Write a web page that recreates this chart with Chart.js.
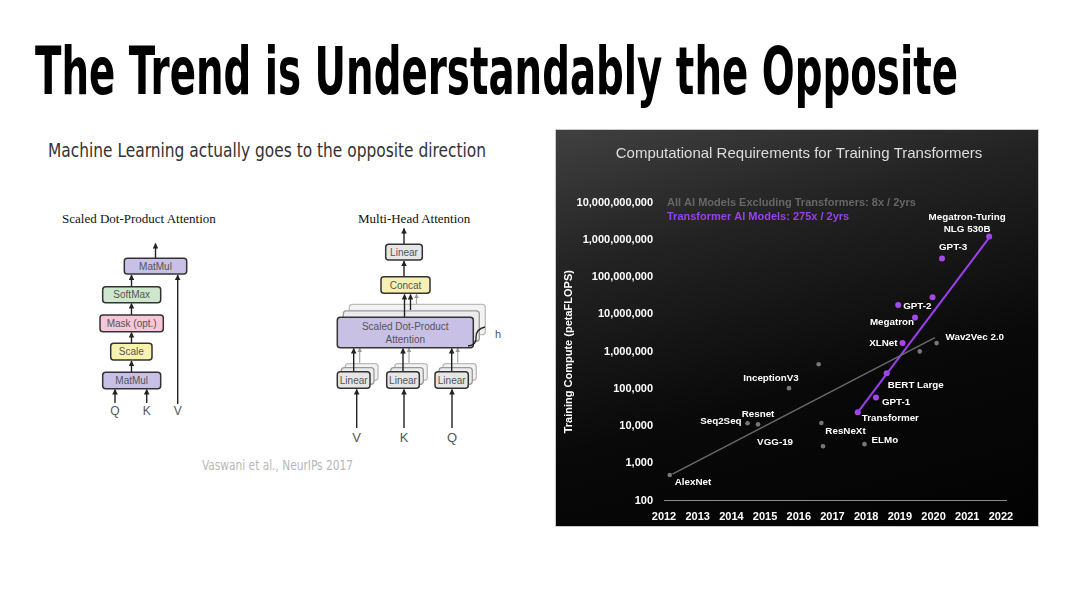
<!DOCTYPE html>
<html>
<head>
<meta charset="utf-8">
<script src="https://cdn.jsdelivr.net/npm/chart.js@4/dist/chart.umd.min.js"></script>
<style>
  html, body { margin: 0; padding: 0; }
  body { width: 1080px; height: 608px; background: #fff; position: relative; overflow: hidden; font-family: "Liberation Sans", Arial, sans-serif; }
  .txt { position: absolute; white-space: nowrap; line-height: 1; transform-origin: 0 0; }
  #title { left: 35px; top: 33px; font: bold 66px "Liberation Sans Narrow", "DejaVu Sans Condensed", sans-serif; color: #000; }
  #subtitle { left: 48px; top: 139px; font: 19px "Liberation Sans Narrow", "DejaVu Sans Condensed", sans-serif; color: #333; }
  #cite { left: 202px; top: 457px; font: 14px "Liberation Sans Narrow", "DejaVu Sans Condensed", sans-serif; color: #b8b8b8; }
  .dtitle { position: absolute; font: 13px "Liberation Serif", "DejaVu Serif", serif; color: #111; white-space: nowrap; }
  #panel { position: absolute; left: 555px; top: 129px; width: 482px; height: 396px; border: 1px solid #c8c8c8;
    background: linear-gradient(165deg, #404040 0%, #222 28%, #090909 62%, #020202 100%); }
  #chart { display: block; }
  svg text { font-family: "Liberation Sans", Arial, sans-serif; }
</style>
</head>
<body>
<div id="title" class="txt" data-w="923">The Trend is Understandably the Opposite</div>
<div id="subtitle" class="txt" data-w="438">Machine Learning actually goes to the opposite direction</div>
<div id="cite" class="txt" data-w="151">Vaswani et al., NeurIPs 2017</div>
<div class="dtitle" style="left:62px;top:211px;">Scaled Dot-Product Attention</div>
<div class="dtitle" style="left:358px;top:211px;">Multi-Head Attention</div>

<svg width="540" height="480" style="position:absolute;left:0;top:0">
  <defs>
    <marker id="ah" viewBox="0 0 10 10" refX="9" refY="5" markerWidth="4" markerHeight="4" orient="auto">
      <path d="M0,0 L10,5 L0,10 z" fill="#222"/>
    </marker>
    <marker id="ahg" viewBox="0 0 10 10" refX="9" refY="5" markerWidth="4" markerHeight="4" orient="auto">
      <path d="M0,0 L10,5 L0,10 z" fill="#999"/>
    </marker>
  </defs>
  <!-- scaled dot-product attention -->
  <g stroke="#222" stroke-width="1.4" marker-end="url(#ah)">
    <line x1="115" y1="403" x2="115" y2="389.5"/>
    <line x1="146.7" y1="403" x2="146.7" y2="389.5"/>
    <line x1="131.5" y1="372" x2="131.5" y2="361"/>
    <line x1="131.5" y1="343" x2="131.5" y2="332.5"/>
    <line x1="131.5" y1="315" x2="131.5" y2="303.5"/>
    <line x1="131.5" y1="286.5" x2="131.5" y2="275"/>
    <line x1="177.7" y1="404" x2="177.7" y2="275"/>
    <line x1="155.5" y1="258" x2="155.5" y2="243.5"/>
  </g>
  <g stroke="#333" stroke-width="1.5">
    <rect x="124.3" y="258.3" width="62.4" height="15.7" rx="3" fill="#c8c0e6"/>
    <rect x="102.7" y="286.7" width="58" height="16" rx="3" fill="#cde8cd"/>
    <rect x="100" y="315" width="63.3" height="16.7" rx="3" fill="#f6c6da"/>
    <rect x="110.7" y="343.3" width="41.3" height="16.7" rx="3" fill="#f7f2ae"/>
    <rect x="102.7" y="372.3" width="58" height="16.4" rx="3" fill="#c8c0e6"/>
  </g>
  <g font-size="10" fill="#555" text-anchor="middle" dominant-baseline="central">
    <text x="155.5" y="266.5">MatMul</text>
    <text x="131.7" y="294.9">SoftMax</text>
    <text x="131.7" y="323.5">Mask (opt.)</text>
    <text x="131.3" y="351.8">Scale</text>
    <text x="131.7" y="380.6">MatMul</text>
  </g>
  <g font-size="12" fill="#555" text-anchor="middle" dominant-baseline="central">
    <text x="115" y="411">Q</text>
    <text x="146.7" y="411">K</text>
    <text x="177.7" y="411">V</text>
  </g>

  <!-- multi-head attention -->
  <g stroke="#aaa" stroke-width="1.2" marker-end="url(#ahg)">
    <line x1="416.5" y1="304" x2="416.5" y2="294"/>
    <line x1="359.7" y1="367" x2="359.7" y2="348"/>
    <line x1="409" y1="367" x2="409" y2="348"/>
    <line x1="457.7" y1="367" x2="457.7" y2="348"/>
  </g>
  <g stroke="#bbb" stroke-width="1.3" fill="#f2f2f2">
    <rect x="349.3" y="304.3" width="136" height="30.4" rx="3"/>
    <rect x="345.3" y="363.7" width="32.7" height="16.6" rx="3"/>
    <rect x="394.7" y="363.7" width="32.6" height="16.6" rx="3"/>
    <rect x="443" y="363.7" width="33.3" height="16.6" rx="3"/>
  </g>
  <g stroke="#999" stroke-width="1.3" fill="#ececec">
    <rect x="343.3" y="310.8" width="136" height="30.4" rx="3"/>
    <rect x="341.3" y="367.7" width="32.7" height="16.6" rx="3"/>
    <rect x="390.7" y="367.7" width="32.6" height="16.6" rx="3"/>
    <rect x="439" y="367.7" width="33.3" height="16.6" rx="3"/>
  </g>
  <g stroke="#222" stroke-width="1.4" marker-end="url(#ah)">
    <line x1="404" y1="244" x2="404" y2="228.5"/>
    <line x1="404" y1="276.5" x2="404" y2="261"/>
    <line x1="404.5" y1="317" x2="404.5" y2="294.5"/>
    <line x1="410.5" y1="310" x2="410.5" y2="294.5"/>
    <line x1="353.7" y1="371.5" x2="353.7" y2="348.5"/>
    <line x1="403" y1="371.5" x2="403" y2="348.5"/>
    <line x1="451.7" y1="371.5" x2="451.7" y2="348.5"/>
    <line x1="356.7" y1="428" x2="356.7" y2="389.5"/>
    <line x1="404" y1="428" x2="404" y2="389.5"/>
    <line x1="452" y1="428" x2="452" y2="389.5"/>
  </g>
  <g stroke="#333" stroke-width="1.5">
    <rect x="385.7" y="244.3" width="36.6" height="15.7" rx="3" fill="#e6e6e6"/>
    <rect x="381" y="276.7" width="49" height="16.6" rx="3" fill="#f8f0b2"/>
    <rect x="337.3" y="317.3" width="136" height="30.4" rx="3" fill="#c9c0e6"/>
    <rect x="337.3" y="371.7" width="32.7" height="16.6" rx="3" fill="#e6e6e6"/>
    <rect x="386.7" y="371.7" width="32.6" height="16.6" rx="3" fill="#e6e6e6"/>
    <rect x="435" y="371.7" width="33.3" height="16.6" rx="3" fill="#e6e6e6"/>
  </g>
  <path d="M468,346 q9,-1 8,-9 q0,-8 9,-10" stroke="#222" stroke-width="1.3" fill="none"/>
  <g font-size="10" fill="#555" text-anchor="middle" dominant-baseline="central">
    <text x="404" y="252.3">Linear</text>
    <text x="405.5" y="285">Concat</text>
    <text x="405.3" y="326.5">Scaled Dot-Product</text>
    <text x="405.3" y="339">Attention</text>
    <text x="353.7" y="380">Linear</text>
    <text x="403" y="380">Linear</text>
    <text x="451.7" y="380">Linear</text>
  </g>
  <text x="495" y="334" font-size="11" fill="#555" dominant-baseline="central">h</text>
  <g font-size="13" fill="#555" text-anchor="middle" dominant-baseline="central">
    <text x="356.7" y="437">V</text>
    <text x="404" y="437">K</text>
    <text x="452" y="437">Q</text>
  </g>
</svg>

<div id="panel"><canvas id="chart" width="482" height="396"></canvas></div>

<script>
// fit slide text widths to the reference
document.querySelectorAll('.txt[data-w]').forEach(el => {
  const w = el.getBoundingClientRect().width;
  el.style.transform = 'scaleX(' + (Number(el.dataset.w) / w) + ')';
});

// ---- data ----
const yearTicks = [2012, 2013, 2014, 2015, 2016, 2017, 2018, 2019, 2020, 2021, 2022];
const computeTicks = [100, 1000, 10000, 100000, 1000000, 10000000, 100000000, 1000000000, 10000000000];

// all AI models excluding transformers (grey)
const otherNames = ['AlexNet', 'Seq2Seq', 'Resnet', 'InceptionV3', '', 'ResNeXt', 'VGG-19', 'ELMo', '', 'Wav2Vec 2.0'];
const otherYears = [2012.17, 2014.48, 2014.79, 2015.71, 2016.59, 2016.67, 2016.72, 2017.95, 2019.59, 2020.09];
const otherCompute = [490, 12000, 11200, 105000, 460000, 12200, 2900, 3300, 1020000, 1700000];

// transformer models (purple)
const tfNames = ['Transformer', 'GPT-1', 'BERT Large', 'XLNet', 'Megatron', 'GPT-2', '', 'GPT-3', 'Megatron-Turing\nNLG 530B'];
const tfYears = [2017.75, 2018.29, 2018.61, 2019.08, 2019.45, 2018.95, 2019.97, 2020.25, 2021.65];
const tfCompute = [23600, 59000, 263000, 1700000, 8300000, 18000000, 29000000, 320000000, 1230000000];

// trend lines
const otherTrendYears = [2012.25, 2020.04];
const otherTrendCompute = [520, 2400000];
const tfTrendYears = [2017.75, 2021.68];
const tfTrendCompute = [23600, 1250000000];

const legendLines = ['All AI Models Excluding Transformers: 8x / 2yrs', 'Transformer AI Models: 275x / 2yrs'];

// label placement next to each point
const labelPos = {
  'AlexNet': [5, 7, 'left'],
  'Seq2Seq': [-6, -2, 'right'],
  'Resnet': [0, -10, 'center'],
  'InceptionV3': [-18, -10, 'center'],
  'ResNeXt': [4, 8, 'left'],
  'VGG-19': [-30, -4, 'right'],
  'ELMo': [7, -4, 'left'],
  'Wav2Vec 2.0': [9, -6, 'left'],
  'Transformer': [4, 6, 'left'],
  'GPT-1': [6, 5, 'left'],
  'BERT Large': [1, 12, 'left'],
  'XLNet': [-5, 0, 'right'],
  'Megatron': [-1, 5, 'right'],
  'GPT-2': [5, 1, 'left'],
  'GPT-3': [-3, -11, 'left'],
  'Megatron-Turing\nNLG 530B': [-22, -19, 'center']
};

const GREY = '#777777';
const PURPLE = '#9a3ff0';
const fmt = new Intl.NumberFormat('en-US');

const toPts = (xs, ys) => xs.map((x, i) => ({ x: x, y: ys[i] }));

const pointLabels = {
  id: 'pointLabels',
  afterDatasetsDraw(chart) {
    const ctx = chart.ctx;
    ctx.save();
    ctx.fillStyle = '#ffffff';
    ctx.font = 'bold 9.8px "Liberation Sans", Arial, sans-serif';
    ctx.textBaseline = 'middle';
    [[2, otherNames], [3, tfNames]].forEach(([di, names]) => {
      chart.getDatasetMeta(di).data.forEach((el, i) => {
        const name = names[i];
        if (!name) return;
        const p = labelPos[name] || [5, 0, 'left'];
        ctx.textAlign = p[2];
        name.split('\n').forEach((line, k) => {
          ctx.fillText(line, el.x + p[0], el.y + p[1] + k * 11.7);
        });
      });
    });
    // legend text
    const a = chart.chartArea;
    ctx.textAlign = 'left';
    ctx.font = 'bold 11px "Liberation Sans", Arial, sans-serif';
    ctx.fillStyle = '#666666';
    ctx.fillText(legendLines[0], a.left + 3, a.top);
    ctx.fillStyle = PURPLE;
    ctx.fillText(legendLines[1], a.left + 3, a.top + 14.5);
    // chart title
    ctx.textAlign = 'center';
    ctx.fillStyle = '#dddddd';
    ctx.font = '15px "Liberation Sans", Arial, sans-serif';
    ctx.fillText('Computational Requirements for Training Transformers', 243, 24);
    ctx.restore();
  }
};

const tickFont = { family: '"Liberation Sans", Arial, sans-serif', size: 11, weight: 'bold' };

new Chart(document.getElementById('chart').getContext('2d'), {
  type: 'scatter',
  data: {
    datasets: [
      { type: 'line', data: toPts(otherTrendYears, otherTrendCompute), borderColor: '#6a6a6a', borderWidth: 1.4, pointRadius: 0, fill: false },
      { type: 'line', data: toPts(tfTrendYears, tfTrendCompute), borderColor: PURPLE, borderWidth: 2, pointRadius: 0, fill: false },
      { data: toPts(otherYears, otherCompute), backgroundColor: GREY, borderWidth: 0, pointRadius: 2.3 },
      { data: toPts(tfYears, tfCompute), backgroundColor: '#a546ee', borderWidth: 0, pointRadius: 3 }
    ]
  },
  options: {
    responsive: false,
    animation: false,
    layout: { padding: { left: 2, top: 72.7, right: 32, bottom: 0 } },
    plugins: { legend: { display: false }, tooltip: { enabled: false } },
    scales: {
      x: {
        type: 'linear',
        min: 2012,
        max: 2022.15,
        afterBuildTicks: s => { s.ticks = yearTicks.map(v => ({ value: v })); },
        ticks: { color: '#ffffff', font: tickFont, padding: 10, maxRotation: 0, autoSkip: false, callback: v => String(v) },
        grid: { display: false, drawTicks: false },
        border: { display: true, color: '#8a8a8a', width: 1 },
        afterFit: s => { s.height = 25.3; }
      },
      y: {
        type: 'logarithmic',
        min: 100,
        max: 10000000000,
        afterBuildTicks: s => { s.ticks = computeTicks.map(v => ({ value: v })); },
        ticks: { color: '#ffffff', font: tickFont, padding: 11, autoSkip: false, callback: v => fmt.format(v) },
        grid: { display: false, drawTicks: false },
        border: { display: false },
        title: { display: true, text: 'Training Compute (petaFLOPS)', color: '#ffffff', font: tickFont, padding: { top: 4, bottom: 4 } },
        afterFit: s => { s.width = 106; }
      }
    }
  },
  plugins: [pointLabels]
});
</script>
</body>
</html>
